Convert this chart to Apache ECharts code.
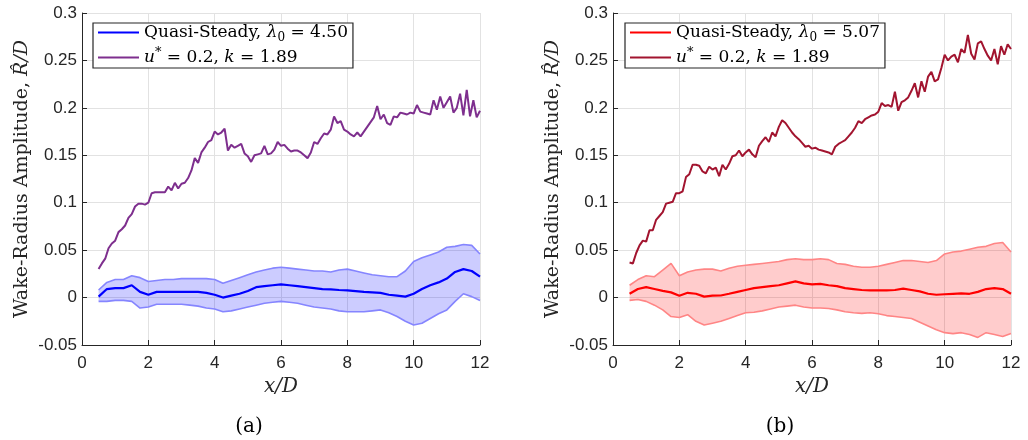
<!DOCTYPE html>
<html><head><meta charset="utf-8">
<script src="https://cdn.jsdelivr.net/npm/echarts@6/dist/echarts.min.js"></script>
<style>html,body{margin:0;padding:0;background:#fff}#c{width:1028px;height:440px}</style>
</head><body><div id="c"></div><script>
// ---- tick labels ----
const xTicks = [0, 2, 4, 6, 8, 10, 12];
const xTickLabels = ['0', '2', '4', '6', '8', '10', '12'];
const yTickLabels = ['-0.05', '0', '0.05', '0.1', '0.15', '0.2', '0.25', '0.3'];

// ---- sample positions (x/D) ----
const xFine = [0.5,0.6,0.7,0.8,0.9,1.0,1.1,1.2,1.3,1.4,1.5,1.6,1.7,1.8,1.9,2.0,2.1,2.2,2.3,2.4,2.5,2.6,2.7,2.8,2.9,3.0,3.1,3.2,3.3,3.4,3.5,3.6,3.7,3.8,3.9,4.0,4.1,4.2,4.3,4.4,4.5,4.6,4.7,4.8,4.9,5.0,5.1,5.2,5.3,5.4,5.5,5.6,5.7,5.8,5.9,6.0,6.1,6.2,6.3,6.4,6.5,6.6,6.7,6.8,6.9,7.0,7.1,7.2,7.3,7.4,7.5,7.6,7.7,7.8,7.9,8.0,8.1,8.2,8.3,8.4,8.5,8.6,8.7,8.8,8.9,9.0,9.1,9.2,9.3,9.4,9.5,9.6,9.7,9.8,9.9,10.0,10.1,10.2,10.3,10.4,10.5,10.6,10.7,10.8,10.9,11.0,11.1,11.2,11.3,11.4,11.5,11.6,11.7,11.8,11.9,12.0];
const xBand = [0.5,0.75,1,1.25,1.5,1.75,2,2.25,2.5,2.75,3,3.25,3.5,3.75,4,4.25,4.5,4.75,5,5.25,5.5,5.75,6,6.25,6.5,6.75,7,7.25,7.5,7.75,8,8.25,8.5,8.75,9,9.25,9.5,9.75,10,10.25,10.5,10.75,11,11.25,11.5,11.75,12];

// ---- panel (a) ----
const uStarA = [0.030,0.036,0.041,0.052,0.057,0.060,0.069,0.072,0.076,0.084,
0.088,0.096,0.099,0.099,0.098,0.100,0.110,0.111,0.111,0.111,
0.111,0.117,0.113,0.121,0.115,0.120,0.121,0.126,0.134,0.147,
0.142,0.153,0.158,0.164,0.166,0.175,0.172,0.174,0.178,0.155,
0.161,0.158,0.160,0.162,0.152,0.149,0.143,0.150,0.151,0.152,
0.160,0.151,0.152,0.156,0.164,0.160,0.161,0.157,0.154,0.155,
0.155,0.153,0.150,0.147,0.153,0.164,0.162,0.168,0.173,0.172,
0.177,0.191,0.184,0.186,0.177,0.175,0.172,0.170,0.174,0.170,
0.175,0.180,0.185,0.190,0.202,0.188,0.193,0.184,0.182,0.191,
0.190,0.195,0.194,0.193,0.195,0.194,0.203,0.196,0.195,0.194,
0.193,0.208,0.198,0.212,0.200,0.206,0.212,0.195,0.200,0.215,
0.192,0.219,0.191,0.208,0.190,0.197];
const meanA = [0.001,0.009,0.010,0.010,0.013,0.006,0.003,0.006,0.006,0.006,0.006,0.006,0.006,0.005,0.003,0.000,0.002,0.004,0.007,0.011,0.012,0.013,0.014,0.013,0.012,0.011,0.010,0.009,0.0087,0.008,0.0076,0.0068,0.006,0.0055,0.0049,0.003,0.002,0.001,0.004,0.009,0.013,0.016,0.020,0.027,0.030,0.028,0.022];
const upperA = [0.008,0.016,0.019,0.019,0.023,0.021,0.017,0.018,0.019,0.019,0.020,0.020,0.020,0.020,0.019,0.015,0.018,0.021,0.024,0.027,0.029,0.031,0.032,0.031,0.030,0.029,0.028,0.028,0.027,0.029,0.030,0.028,0.026,0.024,0.023,0.022,0.022,0.028,0.038,0.042,0.045,0.048,0.053,0.054,0.056,0.055,0.046];
const lowerA = [-0.004,-0.004,-0.003,-0.003,-0.004,-0.011,-0.010,-0.007,-0.007,-0.007,-0.007,-0.008,-0.009,-0.011,-0.012,-0.015,-0.014,-0.012,-0.010,-0.008,-0.006,-0.005,-0.004,-0.005,-0.006,-0.008,-0.010,-0.011,-0.012,-0.014,-0.015,-0.015,-0.015,-0.014,-0.013,-0.016,-0.020,-0.025,-0.029,-0.027,-0.022,-0.017,-0.013,-0.004,0.004,0.001,-0.003];

// ---- panel (b) ----
const uStarB = [0.037,0.036,0.047,0.055,0.060,0.059,0.071,0.071,0.082,0.086,
0.090,0.099,0.100,0.101,0.110,0.110,0.112,0.127,0.130,0.140,
0.140,0.139,0.133,0.131,0.138,0.135,0.137,0.128,0.140,0.135,
0.141,0.149,0.150,0.155,0.149,0.153,0.156,0.151,0.148,0.160,
0.165,0.169,0.164,0.174,0.170,0.180,0.187,0.184,0.179,0.174,
0.170,0.167,0.163,0.159,0.160,0.157,0.158,0.156,0.155,0.154,
0.153,0.151,0.159,0.162,0.164,0.166,0.170,0.174,0.179,0.186,
0.184,0.188,0.190,0.192,0.193,0.196,0.205,0.202,0.203,0.201,
0.217,0.197,0.206,0.208,0.211,0.218,0.226,0.211,0.228,0.217,
0.233,0.238,0.228,0.230,0.242,0.256,0.250,0.254,0.256,0.248,
0.262,0.258,0.277,0.257,0.251,0.268,0.270,0.262,0.255,0.250,
0.262,0.246,0.265,0.256,0.267,0.262];
const meanB = [0.004,0.009,0.011,0.009,0.007,0.0055,0.002,0.005,0.004,0.001,0.002,0.0022,0.004,0.006,0.008,0.010,0.011,0.012,0.013,0.015,0.017,0.015,0.014,0.0145,0.013,0.012,0.010,0.009,0.008,0.0076,0.0076,0.0076,0.008,0.0094,0.008,0.0065,0.004,0.003,0.0035,0.004,0.0045,0.004,0.006,0.009,0.010,0.009,0.004];
const upperB = [0.013,0.019,0.023,0.022,0.029,0.036,0.023,0.027,0.029,0.030,0.030,0.028,0.031,0.033,0.034,0.035,0.036,0.037,0.038,0.040,0.041,0.040,0.040,0.041,0.040,0.036,0.035,0.033,0.032,0.032,0.033,0.035,0.037,0.039,0.039,0.038,0.037,0.039,0.046,0.048,0.049,0.051,0.053,0.054,0.057,0.058,0.048];
const lowerB = [-0.003,-0.002,-0.004,-0.008,-0.013,-0.020,-0.021,-0.018,-0.025,-0.029,-0.027,-0.025,-0.022,-0.019,-0.016,-0.0155,-0.014,-0.012,-0.010,-0.009,-0.008,-0.010,-0.011,-0.011,-0.0115,-0.013,-0.015,-0.016,-0.0167,-0.016,-0.017,-0.019,-0.020,-0.021,-0.022,-0.026,-0.030,-0.034,-0.037,-0.038,-0.037,-0.039,-0.042,-0.037,-0.039,-0.041,-0.038];

// ---- legend texts ----
const legendNames = {
  qsA: '{r|Quasi-Steady, }{i|λ}{s|0}{r| = 4.50}',
  uA: '{i|u}{p|*}{r| = 0.2, }{i|k}{r| = 1.89}',
  qsB: '{r|Quasi-Steady, }{i|λ}{s|0}{r| = 5.07}',
  uB: '{i|u}{p|*}{r| = 0.2, }{i|k}{r| = 1.89}'
};

const AX = '#262626';
const SERIF = 'DejaVu Serif';
const pairs = (xs, ys) => xs.map((x, i) => [x, ys[i]]);

const grids = [{left: 82, top: 13, width: 398, height: 332}, {left: 613, top: 13, width: 398, height: 332}];

function xAxisCfg(gi) {
  return {type: 'value', gridIndex: gi, min: 0, max: 12, interval: 2,
    axisLine: {show: true, onZero: false, lineStyle: {color: AX, width: 1}},
    axisTick: {show: true, inside: true, length: 5, lineStyle: {color: AX}},
    axisLabel: {color: AX, fontFamily: 'Liberation Sans', fontSize: 17, margin: 10,
      formatter: v => { const k = xTicks.indexOf(Math.round(v)); return k >= 0 ? xTickLabels[k] : ''; }},
    splitLine: {show: true, lineStyle: {color: '#e2e2e2', width: 1}},
    name: 'x/D', nameLocation: 'middle', nameGap: 30,
    nameTextStyle: {fontFamily: SERIF, fontStyle: 'italic', fontSize: 20, color: AX}};
}
function yAxisCfg(gi) {
  return {type: 'value', gridIndex: gi, min: -0.05, max: 0.3, interval: 0.05,
    axisLine: {show: true, onZero: false, lineStyle: {color: AX, width: 1}},
    axisTick: {show: true, inside: true, length: 5, lineStyle: {color: AX}},
    axisLabel: {color: AX, fontFamily: 'Liberation Sans', fontSize: 17, margin: 5,
      formatter: v => yTickLabels[Math.round((v + 0.05) / 0.05)] || ''},
    splitLine: {show: true, lineStyle: {color: '#e2e2e2', width: 1}},
    name: '{n|Wake-Radius Amplitude, }{i|R̂/D}', nameLocation: 'middle', nameGap: 50,
    nameTextStyle: {color: AX, rich: {
      n: {fontFamily: SERIF, fontSize: 19, color: AX},
      i: {fontFamily: SERIF, fontStyle: 'italic', fontSize: 19, color: AX}}}};
}

function bandSeries(gi, lower, upper, fill) {
  return {type: 'custom', xAxisIndex: gi, yAxisIndex: gi, silent: true, z: 1,
    data: xBand.map((x, i) => [x, lower[i], upper[i]]),
    encode: {x: 0, y: [1, 2]},
    renderItem: (params, api) => {
      if (params.dataIndex !== 0) return null;
      const pts = [];
      for (let i = 0; i < xBand.length; i++) pts.push(api.coord([xBand[i], upper[i]]));
      for (let i = xBand.length - 1; i >= 0; i--) pts.push(api.coord([xBand[i], lower[i]]));
      return {type: 'polygon', shape: {points: pts}, style: {fill: fill, stroke: null}};
    }};
}

function panelSeries(gi, lower, upper, mean, ustar, c) {
  return [
    bandSeries(gi, lower, upper, c.fill),
    {type: 'line', xAxisIndex: gi, yAxisIndex: gi, data: pairs(xBand, upper), symbol: 'none',
      lineStyle: {color: c.edge, width: 1.6}, silent: true, z: 2},
    {type: 'line', xAxisIndex: gi, yAxisIndex: gi, data: pairs(xBand, lower), symbol: 'none',
      lineStyle: {color: c.edge, width: 1.6}, silent: true, z: 2},
    {name: c.qs, type: 'line', xAxisIndex: gi, yAxisIndex: gi, data: pairs(xBand, mean), symbol: 'none',
      itemStyle: {color: c.mean}, lineStyle: {color: c.mean, width: 2.2}, z: 3},
    {name: c.u, type: 'line', xAxisIndex: gi, yAxisIndex: gi, data: pairs(xFine, ustar), symbol: 'none',
      itemStyle: {color: c.ustar}, lineStyle: {color: c.ustar, width: 2}, z: 4}
  ];
}

const legendRich = {
  r: {fontFamily: SERIF, fontSize: 17, color: '#000', lineHeight: 22},
  i: {fontFamily: SERIF, fontStyle: 'italic', fontSize: 17, color: '#000', lineHeight: 22},
  s: {fontFamily: SERIF, fontSize: 12, color: '#000', lineHeight: 12, verticalAlign: 'bottom'},
  p: {fontFamily: SERIF, fontSize: 13, color: '#000', lineHeight: 13, verticalAlign: 'top'}
};
function legendCfg(left, data) {
  return {left: left, top: 23, orient: 'vertical', data: data, icon: 'rect', itemWidth: 41, itemHeight: 2, itemGap: 3,
    padding: [1, 5, 2, 5], borderColor: AX, borderWidth: 1.2, backgroundColor: '#fff',
    formatter: n => legendNames[n], textStyle: {rich: legendRich}, selectedMode: false};
}

const chart = echarts.init(document.getElementById('c'), null, {renderer: 'canvas'});
chart.setOption({
  animation: false,
  backgroundColor: '#fff',
  grid: grids,
  xAxis: [xAxisCfg(0), xAxisCfg(1)],
  yAxis: [yAxisCfg(0), yAxisCfg(1)],
  legend: [legendCfg(93, ['qsA', 'uA']), legendCfg(625, ['qsB', 'uB'])],
  series: [
    ...panelSeries(0, lowerA, upperA, meanA, uStarA, {fill: 'rgba(0,0,255,0.2)', edge: '#8585ff', mean: '#0000ff', ustar: '#7E2F8E', qs: 'qsA', u: 'uA'}),
    ...panelSeries(1, lowerB, upperB, meanB, uStarB, {fill: 'rgba(255,0,0,0.2)', edge: '#ff8585', mean: '#ff0000', ustar: '#A2142F', qs: 'qsB', u: 'uB'})
  ],
  graphic: [
    {type: 'text', x: 249, y: 427, style: {text: '(a)', align: 'center', verticalAlign: 'middle', fontFamily: SERIF, fontSize: 20, fill: '#000'}},
    {type: 'text', x: 780, y: 427, style: {text: '(b)', align: 'center', verticalAlign: 'middle', fontFamily: SERIF, fontSize: 20, fill: '#000'}}
  ]
});
</script></body></html>
